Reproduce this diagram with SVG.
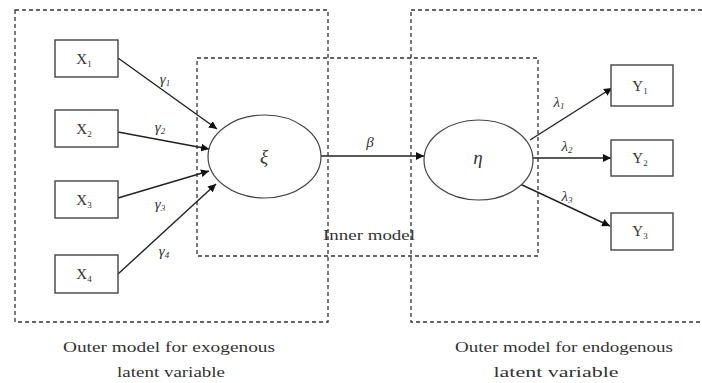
<svg xmlns="http://www.w3.org/2000/svg" width="702" height="383" viewBox="0 0 702 383">
  <style>
    .frame { fill: none; stroke: #333; stroke-width: 1.3; stroke-dasharray: 4 3; }
    .box { fill: #fff; stroke: #444; stroke-width: 1.4; }
    .lv { fill: #fff; stroke: #444; stroke-width: 1.2; }
    .edge { stroke: #222; stroke-width: 1.4; fill: none; marker-end: url(#arrow); }
    text { font-family: "Liberation Serif", "Times New Roman", serif; fill: #333; }
    .var { font-size: 15px; text-anchor: middle; }
    .sub { font-size: 9px; }
    .greek { font-style: italic; font-size: 15px; text-anchor: middle; }
    .cap { font-size: 15px; text-anchor: middle; }
  </style>
  <defs>
    <marker id="arrow" viewBox="0 0 10 10" refX="10" refY="5" markerWidth="8" markerHeight="8" markerUnits="userSpaceOnUse" orient="auto">
      <path d="M0,0 L10,5 L0,10 z" fill="#111"/>
    </marker>
  </defs>

  <!-- model frames -->
  <g id="frames">
    <rect class="frame" x="15" y="10" width="313" height="312"/>
    <rect class="frame" x="411" y="10" width="300" height="312"/>
    <rect class="frame" x="197" y="58" width="341" height="198"/>
  </g>

  <!-- connectors -->
  <g id="connectors">
    <line class="edge" x1="118" y1="58" x2="217" y2="129"/>
    <line class="edge" x1="118" y1="132" x2="209" y2="149"/>
    <line class="edge" x1="118" y1="198" x2="209" y2="171"/>
    <line class="edge" x1="118" y1="274" x2="216" y2="184"/>
    <line class="edge" x1="321" y1="156" x2="424" y2="156"/>
    <line class="edge" x1="530" y1="140" x2="612" y2="88"/>
    <line class="edge" x1="533" y1="158" x2="611" y2="158"/>
    <line class="edge" x1="520" y1="184" x2="610" y2="226"/>
  </g>

  <!-- connector labels -->
  <g id="edge-labels">
    <text class="greek" x="165" y="84">γ<tspan class="sub" dy="2">1</tspan></text>
    <text class="greek" x="160" y="132">γ<tspan class="sub" dy="2">2</tspan></text>
    <text class="greek" x="160" y="209">γ<tspan class="sub" dy="2">3</tspan></text>
    <text class="greek" x="164" y="256">γ<tspan class="sub" dy="2">4</tspan></text>
    <text class="greek" x="370" y="147">β</text>
    <text class="greek" x="559" y="107">λ<tspan class="sub" dy="2">1</tspan></text>
    <text class="greek" x="567" y="151">λ<tspan class="sub" dy="2">2</tspan></text>
    <text class="greek" x="567" y="201">λ<tspan class="sub" dy="2">3</tspan></text>
  </g>

  <!-- indicators -->
  <g id="x1"><rect class="box" x="55" y="40" width="63" height="37"/><text class="var" x="84" y="64">X<tspan class="sub" dy="3">1</tspan></text></g>
  <g id="x2"><rect class="box" x="55" y="110" width="63" height="37"/><text class="var" x="84" y="134">X<tspan class="sub" dy="3">2</tspan></text></g>
  <g id="x3"><rect class="box" x="55" y="181" width="63" height="37"/><text class="var" x="84" y="205">X<tspan class="sub" dy="3">3</tspan></text></g>
  <g id="x4"><rect class="box" x="55" y="255" width="63" height="38"/><text class="var" x="84" y="279">X<tspan class="sub" dy="3">4</tspan></text></g>

  <g id="y1"><rect class="box" x="611" y="65" width="62" height="41"/><text class="var" x="640" y="91">Y<tspan class="sub" dy="3">1</tspan></text></g>
  <g id="y2"><rect class="box" x="611" y="140" width="62" height="36"/><text class="var" x="640" y="163">Y<tspan class="sub" dy="3">2</tspan></text></g>
  <g id="y3"><rect class="box" x="611" y="213" width="62" height="37"/><text class="var" x="640" y="236">Y<tspan class="sub" dy="3">3</tspan></text></g>

  <!-- latent variables -->
  <g id="xi"><ellipse class="lv" cx="264.5" cy="156.5" rx="56.5" ry="41.5"/><text class="greek" x="264" y="163" style="font-size:19px">ξ</text></g>
  <g id="eta"><ellipse class="lv" cx="478.5" cy="160" rx="54.5" ry="40"/><text class="greek" x="478" y="164" style="font-size:19px">η</text></g>

  <!-- captions -->
  <g id="captions">
    <text class="cap" x="369" y="240" textLength="92" lengthAdjust="spacingAndGlyphs">Inner model</text>
    <text class="cap" x="169" y="352" textLength="212" lengthAdjust="spacingAndGlyphs">Outer model for exogenous</text>
    <text class="cap" x="171" y="377" textLength="108" lengthAdjust="spacingAndGlyphs">latent variable</text>
    <text class="cap" x="564" y="352" textLength="218" lengthAdjust="spacingAndGlyphs">Outer model for endogenous</text>
    <text class="cap" x="556" y="377" textLength="125" lengthAdjust="spacingAndGlyphs">latent variable</text>
  </g>
</svg>
